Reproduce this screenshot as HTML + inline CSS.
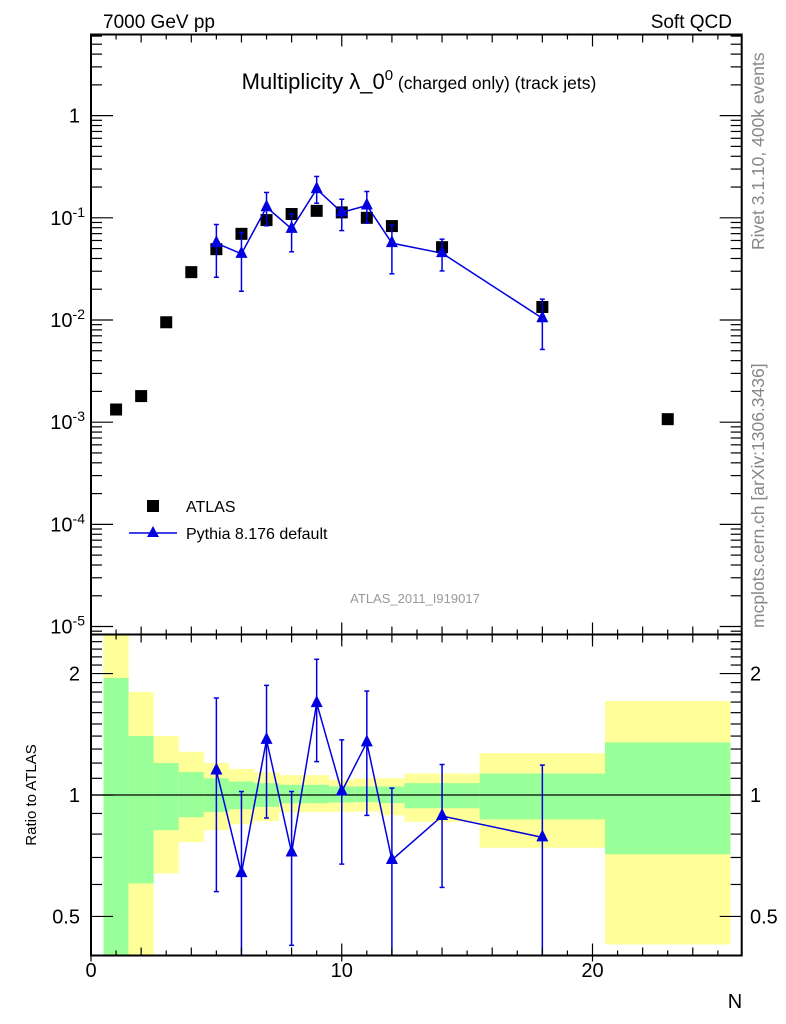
<!DOCTYPE html>
<html><head><meta charset="utf-8">
<style>
html,body{margin:0;padding:0;background:#fff;}
svg{display:block;font-family:"Liberation Sans",Arial,sans-serif;}
</style></head>
<body>
<svg id="chart" width="786" height="1024" viewBox="0 0 786 1024" xmlns="http://www.w3.org/2000/svg">
<text x="103" y="28" font-size="19">7000 GeV pp</text>
<text x="732" y="28" font-size="19" text-anchor="end">Soft QCD</text>
<text x="419" y="89" font-size="22" text-anchor="middle">Multiplicity λ_0<tspan font-size="15" dy="-9">0</tspan><tspan font-size="17.5" dy="9"> (charged only) (track jets)</tspan></text>
<text transform="translate(764,250) rotate(-90)" font-size="17.5" fill="#888">Rivet 3.1.10,  400k events</text>
<text transform="translate(764,628) rotate(-90)" font-size="17.5" fill="#888">mcplots.cern.ch [arXiv:1306.3436]</text>
<text x="415" y="603" font-size="13" fill="#999" text-anchor="middle">ATLAS_2011_I919017</text>
<text transform="translate(36,795) rotate(-90)" font-size="15" text-anchor="middle">Ratio to ATLAS</text>
<text x="735" y="1008" font-size="20" text-anchor="middle">N</text>
<g id="ratio-layer"></g>
<g id="main-layer"></g>
<g id="axes-layer"></g>
<g>
  <rect x="147" y="500" width="12" height="12" fill="#000"/>
  <text x="186" y="512" font-size="16">ATLAS</text>
  <line x1="129" y1="533" x2="177" y2="533" stroke="#0000e0" stroke-width="1.5"/>
  <polygon points="153,526 147,537 159,537" fill="#0000e0"/>
  <text x="186" y="539" font-size="16">Pythia 8.176 default</text>
</g>
</svg>
<script>
const atlasN = [1,2,3,4,5,6,7,8,9,10,11,12,14,18,23];
const atlasVal = [1.33e-3,1.80e-3,9.5e-3,0.0294,0.0493,0.0697,0.095,0.109,0.117,0.113,0.100,0.083,0.0516,0.0134,1.07e-3];
const pyN = [5,6,7,8,9,10,11,12,14,18];
const pyVal = [0.0565,0.0444,0.127,0.078,0.191,0.113,0.132,0.0565,0.0451,0.0104];
const pyUp = [0.086,0.0718,0.177,0.109,0.254,0.152,0.181,0.0853,0.0618,0.0160];
const pyLo = [0.0262,0.0191,0.0835,0.0465,0.139,0.075,0.0887,0.0283,0.0302,0.00515];
const ratioVal = [1.15,0.64,1.37,0.72,1.69,1.02,1.35,0.69,0.887,0.785];
const ratioUp = [1.74,1.02,1.87,1.02,2.17,1.37,1.81,1.04,1.19,1.186];
const ratioLo = [0.576,0.3,0.877,0.424,1.21,0.674,0.89,0.3,0.59,0.3];
const binEdges = [0.5,1.5,2.5,3.5,4.5,5.5,6.5,7.5,8.5,9.5,10.5,11.5,12.5,15.5,20.5,25.5];
const yellowHi = [3,1.80,1.40,1.28,1.20,1.16,1.14,1.12,1.12,1.09,1.10,1.10,1.13,1.27,1.71];
const greenHi = [1.95,1.40,1.20,1.14,1.10,1.08,1.07,1.06,1.06,1.05,1.05,1.05,1.07,1.13,1.35];
const greenLo = [0.3,0.604,0.818,0.881,0.908,0.922,0.934,0.954,0.954,0.958,0.96,0.955,0.927,0.87,0.713];
const yellowLo = [0.3,0.3,0.639,0.764,0.818,0.846,0.862,0.905,0.908,0.908,0.91,0.89,0.858,0.74,0.426];
const mainTickExp = [0,-1,-2,-3,-4,-5];
const ratioTicks = [2,1,0.5];
const xTicks = [0,10,20];

const NS="http://www.w3.org/2000/svg";
const L=91,R=741.7,MT=34.5,MB=634.5,RT=634.5,RB=955.5;
const XMIN=0,XMAX=25.95;
const YLOGMAX=0.794,YLOGMIN=-5.078;
const RLOGMAX=Math.log2(2.5),RLOGMIN=Math.log2(0.4);
function X(v){return L+(v-XMIN)/(XMAX-XMIN)*(R-L);}
function Y(v){const l=Math.log10(v);return MT+(YLOGMAX-l)/(YLOGMAX-YLOGMIN)*(MB-MT);}
function YR(v){let l=Math.log2(v);l=Math.max(RLOGMIN,Math.min(RLOGMAX,l));return RT+(RLOGMAX-l)/(RLOGMAX-RLOGMIN)*(RB-RT);}
function mk(tag,attrs,parent){const e=document.createElementNS(NS,tag);for(const k in attrs)e.setAttribute(k,attrs[k]);parent.appendChild(e);return e;}

const rl=document.getElementById('ratio-layer');
for(let i=0;i<binEdges.length-1;i++){
  const x1=X(binEdges[i]),x2=X(binEdges[i+1]);
  const y1=mk('rect',{x:x1,y:YR(yellowHi[i]),width:x2-x1,height:YR(yellowLo[i])-YR(yellowHi[i]),fill:'#ffff99'},rl);
  
  
  const g1=mk('rect',{x:x1,y:YR(greenHi[i]),width:x2-x1,height:YR(greenLo[i])-YR(greenHi[i]),fill:'#99ff99'},rl);
  
  
}
const one=mk('line',{x1:L,x2:R,y1:YR(1),y2:YR(1),stroke:'#000','stroke-width':1.2},rl);


let rp=pyN.map((n,i)=>X(n)+','+YR(ratioVal[i])).join(' ');
const rline=mk('polyline',{points:rp,fill:'none',stroke:'#0000e0','stroke-width':1.5},rl);


pyN.forEach((n,i)=>{
  const x=X(n);
  const e=mk('line',{x1:x,x2:x,y1:YR(ratioUp[i]),y2:YR(ratioLo[i]),stroke:'#0000e0','stroke-width':1.5},rl);
  
  
  [ratioUp[i],ratioLo[i]].forEach(v=>{if(v>0.41&&v<2.45)mk('line',{x1:x-2.5,x2:x+2.5,y1:YR(v),y2:YR(v),stroke:'#0000e0','stroke-width':1.5},rl);});
  const y=YR(ratioVal[i]);
  const t=mk('polygon',{points:`${x},${y-8} ${x-6},${y+4} ${x+6},${y+4}`,fill:'#0000e0'},rl);
  
  
});

const ml=document.getElementById('main-layer');
let pp=pyN.map((n,i)=>X(n)+','+Y(pyVal[i])).join(' ');
atlasN.forEach((n,i)=>{
  const s=mk('rect',{x:X(n)-6,y:Y(atlasVal[i])-6,width:12,height:12,fill:'#000'},ml);
  
  
});
const pl=mk('polyline',{points:pp,fill:'none',stroke:'#0000e0','stroke-width':1.5},ml);


pyN.forEach((n,i)=>{
  const x=X(n);
  const e=mk('line',{x1:x,x2:x,y1:Y(pyUp[i]),y2:Y(pyLo[i]),stroke:'#0000e0','stroke-width':1.5},ml);
  
  
  [pyUp[i],pyLo[i]].forEach(v=>mk('line',{x1:x-2.5,x2:x+2.5,y1:Y(v),y2:Y(v),stroke:'#0000e0','stroke-width':1.5},ml));
  const y=Y(pyVal[i]);
  const t=mk('polygon',{points:`${x},${y-8} ${x-6},${y+4} ${x+6},${y+4}`,fill:'#0000e0'},ml);
  
  
});

const al=document.getElementById('axes-layer');
const f1=mk('rect',{x:L,y:MT,width:R-L,height:MB-MT,fill:'none',stroke:'#000','stroke-width':2},al);


const f2=mk('rect',{x:L,y:RT,width:R-L,height:RB-RT,fill:'none',stroke:'#000','stroke-width':2},al);


for(let v=0;v<=25;v++){
  const x=X(v);const len=(v%10===0)?12:(v%2===0?8:5);
  [[MT,1],[MB,-1],[RT,1],[RB,-1]].forEach(([y,d])=>mk('line',{x1:x,x2:x,y1:y,y2:y+d*len,stroke:'#000','stroke-width':1.2},al));
  if(v%10===0){[MB,RB].forEach(y=>mk('line',{x1:x,x2:x,y1:y,y2:y+6,stroke:'#000','stroke-width':1.2},al));}
}
xTicks.forEach(v=>{
  const t=mk('text',{x:X(v),y:977,'font-size':20,'text-anchor':'middle'},al);t.textContent=v;
  
  
});
for(let e=-6;e<=0;e++){
  for(let m=1;m<10;m++){
    const v=m*Math.pow(10,e);const y=Y(v);if(y<MT||y>MB)continue;
    const len=m===1?22:11;
    mk('line',{x1:L,x2:L+len,y1:y,y2:y,stroke:'#000','stroke-width':1.2},al);
    mk('line',{x1:R,x2:R-len,y1:y,y2:y,stroke:'#000','stroke-width':1.2},al);
  }
}
mainTickExp.forEach(e=>{
  const y=Y(Math.pow(10,e));
  const t=mk('text',{x:80,y:y+7,'font-size':20,'text-anchor':'end'},al);
  
  
  if(e===0){t.textContent='1';}else{t.innerHTML='10<tspan font-size="14" dy="-8">'+e+'</tspan>';t.setAttribute('x',85);}
});
for(let v=0.4;v<=2.51;v+=0.1){
  const y=YR(v);const major=[0.5,1,2].some(m=>Math.abs(m-v)<1e-6);const len=major?22:11;
  mk('line',{x1:L,x2:L+len,y1:y,y2:y,stroke:'#000','stroke-width':1.2},al);
  mk('line',{x1:R,x2:R-len,y1:y,y2:y,stroke:'#000','stroke-width':1.2},al);
}
ratioTicks.forEach(v=>{
  const y=YR(v);
  const t=mk('text',{x:80,y:y+7,'font-size':20,'text-anchor':'end'},al);t.textContent=v;
  
  
  const t2=mk('text',{x:750,y:y+7,'font-size':20},al);t2.textContent=v;
  
  
});
</script>
</body></html>
